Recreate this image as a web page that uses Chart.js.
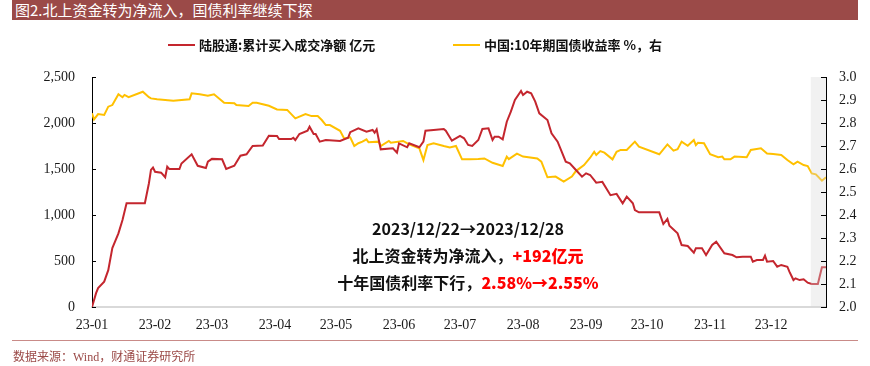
<!DOCTYPE html>
<html>
<head>
<meta charset="utf-8">
<script src="https://cdn.jsdelivr.net/npm/chart.js@4.4.0/dist/chart.umd.min.js"></script>
<style>
  html, body { margin:0; padding:0; background:#fff; }
  body { width:870px; height:366px; position:relative; overflow:hidden; font-family:"Noto Sans CJK SC", sans-serif; }
  #c { position:absolute; left:0; top:0; }
  .title { position:absolute; left:12px; top:0; width:846px; height:20px; background:#9b4a48; color:#fff;
           font-size:15px; line-height:20px; padding-left:3px; box-sizing:border-box; }
  .leg { position:absolute; top:36px; font-size:13px; font-weight:bold; color:#111; line-height:18px; white-space:nowrap; }
  .leg i { display:inline-block; width:27px; height:2px; vertical-align:middle; margin-right:4px; position:relative; top:-1px; }
  .note { position:absolute; left:268px; width:400px; text-align:center; font-size:16px; font-weight:bold; color:#111; white-space:nowrap; }
  .note b { color:#ff0000; }
  .foot-line { position:absolute; left:12px; top:340px; width:846px; height:1px; background:#c98b88; }
  .foot { position:absolute; left:13px; top:347px; font-size:12px; color:#9b4a48; font-family:"Liberation Serif","Noto Sans CJK SC",serif; }
</style>
</head>
<body>
<canvas id="c" width="870" height="366"></canvas>
<div class="title">图2.北上资金转为净流入，国债利率继续下探</div>
<div class="leg" style="left:168px"><i style="background:#c4262e"></i>陆股通:累计买入成交净额 亿元</div>
<div class="leg" style="left:453px"><i style="background:#ffc000"></i>中国:10年期国债收益率 %，右</div>
<div class="note" style="top:216px">2023/12/22→2023/12/28</div>
<div class="note" style="top:243px">北上资金转为净流入，<b>+192亿元</b></div>
<div class="note" style="top:270px">十年国债利率下行，<b>2.58%→2.55%</b></div>
<div class="foot-line"></div>
<div class="foot">数据来源：Wind，财通证券研究所</div>
<script>
// day of year 2023 (1 = Jan 1)
const redDays = [1,3,4,7,9,11,14,16,18,27,29,30,31,32,35,37,38,39,44,45,50,53,57,58,60,65,67,71,74,77,
  80,85,88,92,93,99,100,101,103,107,108,110,111,113,116,123,127,128,132,136,139,140,141,143,149,151,152,156,157,162,
  164,165,169,174,175,178,182,184,186,188,191,193,196,198,199,201,203,205,207,209,212,213,215,217,219,221,225,227,230,232,
  234,236,239,242,244,246,249,252,256,259,262,264,267,268,270,280,282,284,285,289,291,294,297,298,301,303,306,308,312,316,
  318,321,325,326,328,331,332,333,336,338,340,343,344,346,347,349,351,353,355,358,360,362]
// 陆股通累计买入成交净额，亿元
const redVals = [0,150,205,275,400,640,800,945,1127,1127,1345,1490,1515,1470,1460,1410,1525,1500,1500,1560,
  1660,1535,1510,1580,1610,1605,1500,1535,1645,1660,1750,1755,1862,1860,1826,1826,1840,1815,1880,1916,
  1960,1880,1880,1797,1815,1804,1840,1900,1942,1906,1924,1895,1931,1714,1725,1678,1779,1736,1779,1736,
  1797,1916,1924,1935,1916,1808,1859,1834,1761,1750,1815,1935,1942,1815,1851,1851,1823,2014,2123,2250,
  2348,2304,2340,2323,2232,2105,2033,1888,1797,1688,1580,1562,1489,1416,1453,1435,1351,1360,1215,1230,
  1127,1199,1127,1054,1029,1029,902,957,884,801,674,663,590,638,638,565,674,710,584,565,
  540,547,547,493,511,511,558,493,500,438,457,438,384,293,312,293,301,264,250,250,431,431]

const yelDays = [1,2,4,7,9,11,14,16,17,19,26,29,30,33,41,49,50,54,58,61,66,71,72,78,80,82,88,92,97,101,
  106,109,112,114,116,118,123,125,128,130,132,134,136,137,142,143,147,148,154,157,162,164,166,169,174,177,180,183,187,191,
  194,198,203,205,206,210,213,220,222,225,229,233,237,239,243,246,248,249,251,253,257,259,261,264,268,270,280,284,287,289,
  291,294,297,298,299,302,305,309,311,312,315,317,323,325,330,333,336,340,343,346,348,351,353,355,357,360,362]
// 中国10年期国债收益率，%
const yelVals = [2.842,2.816,2.839,2.835,2.871,2.878,2.925,2.912,2.922,2.912,2.936,2.912,2.907,2.903,2.897,2.903,2.929,2.925,2.919,2.925,
  2.888,2.886,2.878,2.874,2.888,2.888,2.875,2.859,2.857,2.820,2.839,2.830,2.830,2.813,2.791,2.791,2.766,2.733,2.738,2.700,
  2.712,2.719,2.729,2.716,2.719,2.700,2.722,2.714,2.722,2.707,2.690,2.639,2.704,2.712,2.700,2.694,2.700,2.642,2.642,2.643,
  2.646,2.627,2.613,2.654,2.643,2.667,2.654,2.646,2.632,2.564,2.567,2.545,2.567,2.591,2.617,2.649,2.675,2.661,2.678,2.671,
  2.642,2.675,2.683,2.683,2.719,2.697,2.664,2.707,2.680,2.686,2.719,2.701,2.726,2.704,2.714,2.712,2.664,2.651,2.654,2.642,
  2.642,2.654,2.651,2.683,2.690,2.667,2.665,2.661,2.639,2.620,2.632,2.617,2.613,2.581,2.577,2.549,2.564]

const monthDays = [1,32,60,91,121,152,182,213,244,274,305,335]
const monthLabels = ['23-01','23-02','23-03','23-04','23-05','23-06','23-07','23-08','23-09','23-10','23-11','23-12']
const leftTicks = [0,500,1000,1500,2000,2500]
const rightTicks = [2.0,2.1,2.2,2.3,2.4,2.5,2.6,2.7,2.8,2.9,3.0]
const shadeDays = [354.5, 362]   // 2023/12/22 -> 2023/12/28

const tickFont = { family:'"Liberation Serif", serif', size:14 }

const shade = {
  id:'shade',
  afterDatasetsDraw(chart) {
    const { ctx, chartArea:a, scales:{x} } = chart
    const x0 = x.getPixelForValue(shadeDays[0])
    ctx.save()
    ctx.fillStyle = 'rgba(215,215,215,0.35)'
    ctx.fillRect(x0, a.top, a.right - x0, a.bottom - a.top)
    ctx.restore()
  }
}

const innerTicks = {
  id:'innerTicks',
  afterDraw(chart) {
    const { ctx, chartArea:a, scales } = chart
    ctx.save()
    ctx.strokeStyle = '#000'; ctx.lineWidth = 1
    scales.y.ticks.forEach(t => {
      const py = Math.round(scales.y.getPixelForValue(t.value)) + 0.5
      ctx.beginPath(); ctx.moveTo(a.left, py); ctx.lineTo(a.left + 4, py); ctx.stroke()
    })
    scales.y1.ticks.forEach(t => {
      const py = Math.round(scales.y1.getPixelForValue(t.value)) + 0.5
      ctx.beginPath(); ctx.moveTo(a.right - 5, py); ctx.lineTo(a.right, py); ctx.stroke()
    })
    ctx.restore()
  }
}

new Chart(document.getElementById('c'), {
  type:'line',
  data:{
    datasets:[
      { label:'陆股通:累计买入成交净额 亿元', data: redDays.map((d,i)=>({x:d, y:redVals[i]})),
        borderColor:'#c4262e', borderWidth:2, pointRadius:0, yAxisID:'y', tension:0 },
      { label:'中国:10年期国债收益率 %，右', data: yelDays.map((d,i)=>({x:d, y:yelVals[i]})),
        borderColor:'#ffc000', borderWidth:2, pointRadius:0, yAxisID:'y1', tension:0 },
    ]
  },
  options:{
    responsive:false, animation:false,
    layout:{ padding:{ top:77, left:0, right:0, bottom:0 } },
    plugins:{ legend:{display:false}, tooltip:{enabled:false} },
    scales:{
      x:{ type:'linear', min:1, max:362,
        afterBuildTicks: s => { s.ticks = monthDays.map(v => ({value:v})) },
        afterFit: s => { s.height = 59 },
        ticks:{ autoSkip:false, maxRotation:0, padding:10, font:tickFont, color:'#1a1a1a',
          callback: v => monthLabels[monthDays.indexOf(v)] },
        grid:{ display:false, drawTicks:false },
        border:{ display:true, color:'#d9d9d9', width:2 } },
      y:{ position:'left', min:0, max:2500,
        afterBuildTicks: s => { s.ticks = leftTicks.map(v => ({value:v})) },
        afterFit: s => { s.width = 92 },
        ticks:{ padding:17, font:tickFont, color:'#1a1a1a', callback: v => v.toLocaleString('en-US') },
        grid:{ display:false, drawTicks:false },
        border:{ display:true, color:'#000', width:1 } },
      y1:{ position:'right', min:2, max:3,
        afterBuildTicks: s => { s.ticks = rightTicks.map(v => ({value:v})) },
        afterFit: s => { s.width = 44 },
        ticks:{ padding:13, font:tickFont, color:'#1a1a1a', callback: v => v.toFixed(1) },
        grid:{ display:false, drawTicks:false },
        border:{ display:true, color:'#000', width:1 } }
    }
  },
  plugins:[shade, innerTicks]
})
</script>
</body>
</html>
